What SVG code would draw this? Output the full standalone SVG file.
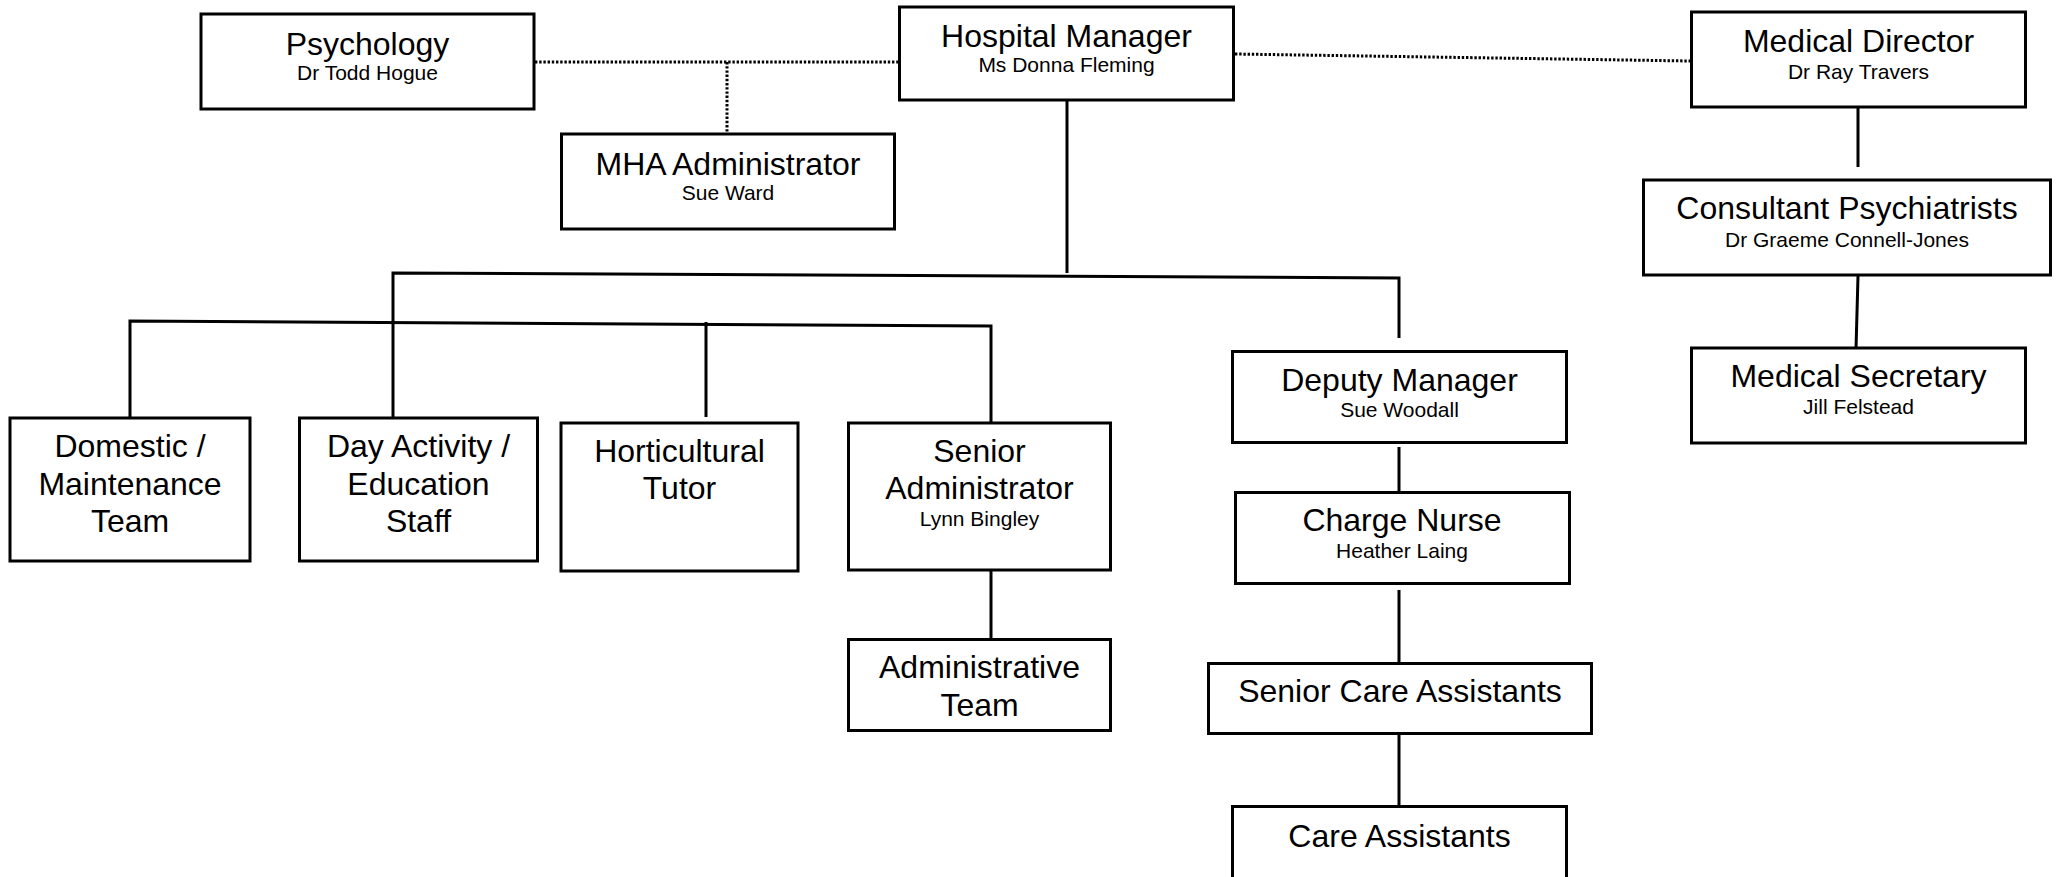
<svg xmlns="http://www.w3.org/2000/svg" width="2056" height="877" viewBox="0 0 2056 877">
<style>
.box{fill:#fff;stroke:#000;stroke-width:3}
.ln{stroke:#000;stroke-width:3;fill:none}
.dot{stroke:#000;stroke-width:3;fill:none;stroke-dasharray:2.4 1.8}
text{font-family:"Liberation Sans",Arial,sans-serif;text-anchor:middle;fill:#000}
.t{font-size:32px}
.s{font-size:21px}
</style>
<rect width="2056" height="877" fill="#fff"/>
<g id="connectors">
<line class="dot" x1="535" y1="62" x2="898" y2="62"/>
<line class="dot" x1="727" y1="62" x2="727" y2="133"/>
<line class="dot" x1="1235" y1="54" x2="1690" y2="61"/>
<line class="ln" x1="1067" y1="100" x2="1067" y2="273"/>
<polyline class="ln" points="393,417 393,273 1399,278 1399,338"/>
<polyline class="ln" points="130,417 130,321 991,326 991,422"/>
<line class="ln" x1="706" y1="322" x2="706" y2="417"/>
<line class="ln" x1="991" y1="567" x2="991" y2="638"/>
<line class="ln" x1="1399" y1="447" x2="1399" y2="492"/>
<line class="ln" x1="1399" y1="590" x2="1399" y2="662"/>
<line class="ln" x1="1399" y1="734" x2="1399" y2="806"/>
<line class="ln" x1="1858" y1="108" x2="1858" y2="167"/>
<line class="ln" x1="1858" y1="276" x2="1856" y2="349"/>
</g>
<g id="psychology">
<rect class="box" x="201" y="14" width="333" height="95"/>
<text class="t" x="367.5" y="55">Psychology</text>
<text class="s" x="367.5" y="80">Dr Todd Hogue</text>
</g>
<g id="hospital-manager">
<rect class="box" x="899.5" y="7" width="334" height="93"/>
<text class="t" x="1066.5" y="47">Hospital Manager</text>
<text class="s" x="1066.5" y="72">Ms Donna Fleming</text>
</g>
<g id="medical-director">
<rect class="box" x="1691.5" y="12" width="334" height="95"/>
<text class="t" x="1858.5" y="52">Medical Director</text>
<text class="s" x="1858.5" y="79">Dr Ray Travers</text>
</g>
<g id="mha-administrator">
<rect class="box" x="561.5" y="134" width="333" height="95"/>
<text class="t" x="728" y="175">MHA Administrator</text>
<text class="s" x="728" y="200">Sue Ward</text>
</g>
<g id="consultant-psychiatrists">
<rect class="box" x="1643.5" y="180" width="407" height="95"/>
<text class="t" x="1847" y="219">Consultant Psychiatrists</text>
<text class="s" x="1847" y="247">Dr Graeme Connell-Jones</text>
</g>
<g id="medical-secretary">
<rect class="box" x="1691.5" y="348" width="334" height="95"/>
<text class="t" x="1858.5" y="387">Medical Secretary</text>
<text class="s" x="1858.5" y="414">Jill Felstead</text>
</g>
<g id="domestic">
<rect class="box" x="10" y="418" width="240" height="143"/>
<text class="t" x="130" y="457">Domestic /</text>
<text class="t" x="130" y="494.5">Maintenance</text>
<text class="t" x="130" y="532">Team</text>
</g>
<g id="day-activity">
<rect class="box" x="299.5" y="418" width="238" height="143"/>
<text class="t" x="418.5" y="457">Day Activity /</text>
<text class="t" x="418.5" y="494.5">Education</text>
<text class="t" x="418.5" y="532">Staff</text>
</g>
<g id="horticultural-tutor">
<rect class="box" x="561" y="423" width="237" height="148"/>
<text class="t" x="679.5" y="462">Horticultural</text>
<text class="t" x="679.5" y="499">Tutor</text>
</g>
<g id="senior-administrator">
<rect class="box" x="848.5" y="423" width="262" height="147"/>
<text class="t" x="979.5" y="462">Senior</text>
<text class="t" x="979.5" y="499">Administrator</text>
<text class="s" x="979.5" y="526">Lynn Bingley</text>
</g>
<g id="administrative-team">
<rect class="box" x="848.5" y="639.5" width="262" height="91"/>
<text class="t" x="979.5" y="678">Administrative</text>
<text class="t" x="979.5" y="716">Team</text>
</g>
<g id="deputy-manager">
<rect class="box" x="1232.5" y="351.5" width="334" height="91"/>
<text class="t" x="1399.5" y="391">Deputy Manager</text>
<text class="s" x="1399.5" y="417">Sue Woodall</text>
</g>
<g id="charge-nurse">
<rect class="box" x="1235.5" y="492.5" width="334" height="91"/>
<text class="t" x="1402" y="531">Charge Nurse</text>
<text class="s" x="1402" y="558">Heather Laing</text>
</g>
<g id="senior-care-assistants">
<rect class="box" x="1208.5" y="663.5" width="383" height="70"/>
<text class="t" x="1400" y="702">Senior Care Assistants</text>
</g>
<g id="care-assistants">
<rect class="box" x="1232.5" y="806.5" width="334" height="80"/>
<text class="t" x="1399.5" y="847">Care Assistants</text>
</g>
</svg>
